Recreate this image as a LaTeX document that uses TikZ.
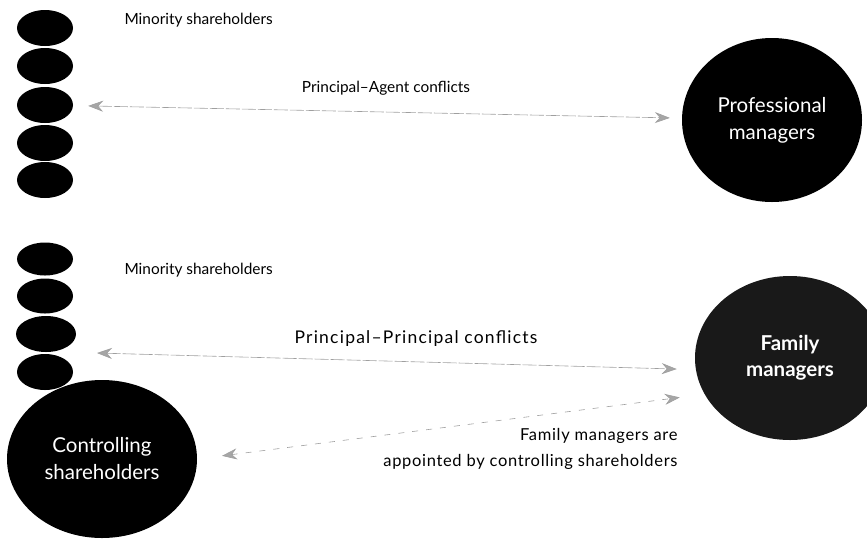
\documentclass[tikz,border=0pt]{standalone}
\usepackage{fontspec}
\setmainfont{Lato}
\usetikzlibrary{positioning,calc,shapes.geometric,arrows.meta}

\begin{document}
\begin{tikzpicture}[x=1pt,y=-1pt,every node/.style={font=\fontsize{15.4}{19}\selectfont},
  small/.style={ellipse,fill=black,inner sep=0pt,minimum width=56pt,minimum height=36pt},
  big/.style={ellipse,fill=black,text=white,align=center,inner sep=0pt,minimum width=186pt,minimum height=160pt,
    font=\fontsize{20.5}{27}\selectfont},
  conflict/.style={draw=gray!75,line width=.6pt,dash pattern=on 14pt off 2pt,
    {Stealth[length=15pt,width=11pt,inset=5pt,fill=gray!70]}-{Stealth[length=15pt,width=11pt,inset=5pt,fill=gray!70]}}]
\useasboundingbox (0,0) rectangle (867,542);
% upper panel
\node[small] (msA1) at (45,28) {};
\node[small] (msA2) at (45,66) {};
\node[small] (msA3) at (45,105) {};
\node[small] (msA4) at (45,143) {};
\node[small] (msA5) at (45,180) {};
\node[anchor=west] (minA) at (121,20) {Minority shareholders};
\node[big,minimum width=180pt,minimum height=164pt] (prof) at (772,120) {Professional\\managers};
\draw[conflict,shorten <=15pt,shorten >=12pt] (msA3) -- (prof);
\node (pa) at (386,88) {Principal--Agent conflicts};
% lower panel
\node[small,minimum height=33pt] (msB1) at (45,259) {};
\node[small,minimum height=35pt] (msB2) at (45,296) {};
\node[small,minimum width=60pt] (msB3) at (46,334) {};
\node[small] (msB4) at (45,372) {};
\node[anchor=west] (minB) at (121,270) {Minority shareholders};
\node[big,minimum width=190pt,minimum height=158pt] (ctrl) at (102,459) {Controlling\\shareholders};
\node[big,fill=black!90,minimum width=190pt,minimum height=164pt,font=\fontsize{20.5}{26}\selectfont\bfseries] (fam) at (790,358) {Family\\managers};
\coordinate (ppL) at (97,353);
\draw[conflict,shorten >=19pt] (ppL) -- (fam.187);
\node[font=\fontsize{17.5}{21}\selectfont\addfontfeatures{LetterSpace=7}] (pp) at (416,339) {Principal--Principal conflicts};
\draw[conflict,dash pattern=on 6pt off 8pt,shorten <=25pt,shorten >=25pt] (ctrl.east) -- (fam.203);
\node[align=right,anchor=north east,font=\fontsize{16.5}{26}\selectfont\addfontfeatures{LetterSpace=4}] (appt) at (681,425) {Family managers are\\appointed by controlling shareholders};
\end{tikzpicture}
\end{document}
